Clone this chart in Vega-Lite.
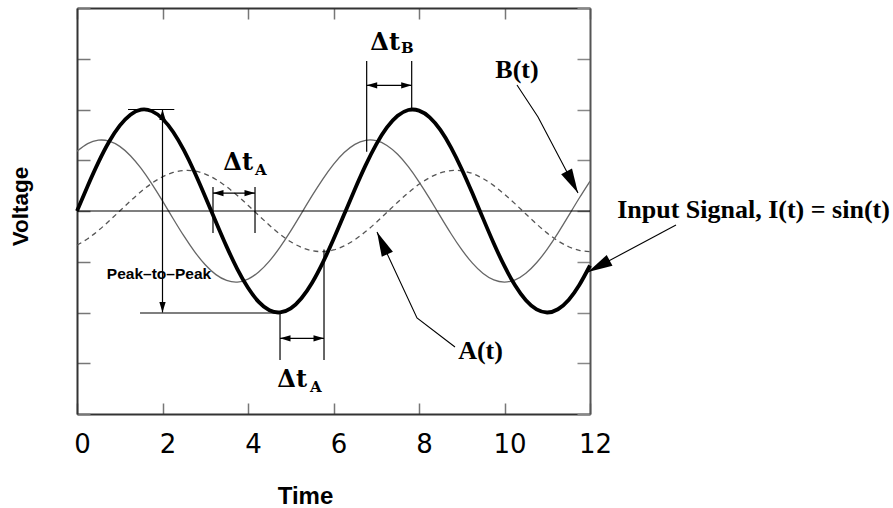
{
  "$schema": "https://vega.github.io/schema/vega-lite/v6.json",
  "width": 513,
  "height": 406,
  "autosize": {"type": "none"},
  "padding": {"left": 77, "top": 8, "right": 303, "bottom": 94},
  "background": "white",
  "config": {"view": {"stroke": null}},
  "resolve": {"axis": {"x": "independent", "y": "independent"}},
  "datasets": {
    "curve": [
      {"t": 0, "I": 0, "A": -0.337, "B": 0.589},
      {"t": 0.25, "I": 0.247, "A": -0.273, "B": 0.664},
      {"t": 0.5, "I": 0.479, "A": -0.192, "B": 0.698},
      {"t": 0.75, "I": 0.682, "A": -0.099, "B": 0.689},
      {"t": 1, "I": 0.841, "A": 0, "B": 0.637},
      {"t": 1.25, "I": 0.949, "A": 0.099, "B": 0.545},
      {"t": 1.5, "I": 0.998, "A": 0.192, "B": 0.419},
      {"t": 1.75, "I": 0.984, "A": 0.273, "B": 0.267},
      {"t": 2, "I": 0.909, "A": 0.337, "B": 0.099},
      {"t": 2.25, "I": 0.778, "A": 0.38, "B": -0.076},
      {"t": 2.5, "I": 0.599, "A": 0.399, "B": -0.246},
      {"t": 2.75, "I": 0.382, "A": 0.394, "B": -0.4},
      {"t": 3, "I": 0.141, "A": 0.364, "B": -0.53},
      {"t": 3.25, "I": -0.108, "A": 0.311, "B": -0.627},
      {"t": 3.5, "I": -0.351, "A": 0.239, "B": -0.684},
      {"t": 3.75, "I": -0.572, "A": 0.153, "B": -0.7},
      {"t": 4, "I": -0.757, "A": 0.056, "B": -0.671},
      {"t": 4.25, "I": -0.895, "A": -0.043, "B": -0.601},
      {"t": 4.5, "I": -0.978, "A": -0.14, "B": -0.494},
      {"t": 4.75, "I": -0.999, "A": -0.229, "B": -0.356},
      {"t": 5, "I": -0.959, "A": -0.303, "B": -0.196},
      {"t": 5.25, "I": -0.859, "A": -0.358, "B": -0.023},
      {"t": 5.5, "I": -0.706, "A": -0.391, "B": 0.151},
      {"t": 5.75, "I": -0.508, "A": -0.4, "B": 0.315},
      {"t": 6, "I": -0.279, "A": -0.384, "B": 0.46},
      {"t": 6.25, "I": -0.033, "A": -0.344, "B": 0.576},
      {"t": 6.5, "I": 0.215, "A": -0.282, "B": 0.657},
      {"t": 6.75, "I": 0.45, "A": -0.203, "B": 0.696},
      {"t": 7, "I": 0.657, "A": -0.112, "B": 0.693},
      {"t": 7.25, "I": 0.823, "A": -0.013, "B": 0.646},
      {"t": 7.5, "I": 0.938, "A": 0.086, "B": 0.559},
      {"t": 7.75, "I": 0.995, "A": 0.18, "B": 0.437},
      {"t": 8, "I": 0.989, "A": 0.263, "B": 0.288},
      {"t": 8.25, "I": 0.923, "A": 0.329, "B": 0.122},
      {"t": 8.5, "I": 0.799, "A": 0.375, "B": -0.053},
      {"t": 8.75, "I": 0.625, "A": 0.398, "B": -0.224},
      {"t": 9, "I": 0.412, "A": 0.396, "B": -0.381},
      {"t": 9.25, "I": 0.174, "A": 0.369, "B": -0.514},
      {"t": 9.5, "I": -0.075, "A": 0.319, "B": -0.616},
      {"t": 9.75, "I": -0.32, "A": 0.25, "B": -0.679},
      {"t": 10, "I": -0.544, "A": 0.164, "B": -0.7},
      {"t": 10.25, "I": -0.735, "A": 0.07, "B": -0.678},
      {"t": 10.5, "I": -0.88, "A": -0.03, "B": -0.613},
      {"t": 10.75, "I": -0.97, "A": -0.128, "B": -0.51},
      {"t": 11, "I": -1, "A": -0.218, "B": -0.376},
      {"t": 11.25, "I": -0.968, "A": -0.294, "B": -0.218},
      {"t": 11.5, "I": -0.876, "A": -0.352, "B": -0.046},
      {"t": 11.75, "I": -0.729, "A": -0.388, "B": 0.128},
      {"t": 12, "I": -0.537, "A": -0.4, "B": 0.294}
    ],
    "segments": [
      {"x": 0, "x2": 12, "y": 0, "y2": 0},
      {"x": 2, "x2": 2, "y": 1, "y2": -1},
      {"x": 1.193, "x2": 2.276, "y": 1, "y2": 1},
      {"x": 1.474, "x2": 4.749, "y": -1.005, "y2": -1.005},
      {"x": 3.181, "x2": 3.181, "y": 0.236, "y2": -0.217},
      {"x": 4.164, "x2": 4.164, "y": 0.236, "y2": -0.217},
      {"x": 3.181, "x2": 4.164, "y": 0.177, "y2": 0.177},
      {"x": 4.749, "x2": 4.749, "y": -1.005, "y2": -1.468},
      {"x": 5.778, "x2": 5.778, "y": -0.38, "y2": -1.468},
      {"x": 4.749, "x2": 5.778, "y": -1.254, "y2": -1.254},
      {"x": 6.776, "x2": 6.776, "y": 1.478, "y2": 0.584},
      {"x": 7.829, "x2": 7.829, "y": 1.478, "y2": 1.012},
      {"x": 6.776, "x2": 7.829, "y": 1.238, "y2": 1.238}
    ],
    "pointers": [
      {"id": "B", "o": 1, "x": 10.292, "y": 1.241},
      {"id": "B", "o": 2, "x": 10.784, "y": 0.926},
      {"id": "B", "o": 3, "x": 11.719, "y": 0.177},
      {"id": "A", "o": 1, "x": 8.842, "y": -1.34},
      {"id": "A", "o": 2, "x": 7.953, "y": -1.054},
      {"id": "A", "o": 3, "x": 7.018, "y": -0.207},
      {"id": "I", "o": 1, "x": 14.012, "y": -0.138},
      {"id": "I", "o": 2, "x": 11.953, "y": -0.601}
    ],
    "smallheads": [
      {"x": 2, "y": 1, "dir": "up"},
      {"x": 2, "y": -1, "dir": "down"},
      {"x": 3.181, "y": 0.177, "dir": "left"},
      {"x": 4.164, "y": 0.177, "dir": "right"},
      {"x": 4.749, "y": -1.254, "dir": "left"},
      {"x": 5.778, "y": -1.254, "dir": "right"},
      {"x": 6.776, "y": 1.238, "dir": "left"},
      {"x": 7.829, "y": 1.238, "dir": "right"}
    ],
    "bigheads": [
      {"x": 11.719, "y": 0.177, "dir": "toB"},
      {"x": 7.018, "y": -0.207, "dir": "toA"},
      {"x": 11.953, "y": -0.601, "dir": "toI"}
    ],
    "labels": [
      {"x": 10.292, "y": 1.31, "text": "B(t)"},
      {"x": 9.439, "y": -1.461, "text": "A(t)"},
      {"x": 15.825, "y": -0.072, "text": "Input Signal, I(t) = sin(t)"}
    ],
    "deltas": [
      {"x": 4.117, "y": 0.404, "text": "Δt"},
      {"x": 5.38, "y": -1.731, "text": "Δt"},
      {"x": 7.556, "y": 1.586, "text": "Δt"}
    ],
    "subs": [
      {"x": 4.164, "y": 0.355, "text": "A"},
      {"x": 5.45, "y": -1.78, "text": "A"},
      {"x": 7.579, "y": 1.554, "text": "B"}
    ],
    "p2p": [
      {"x": 1.918, "y": -0.673, "text": "Peak–to–Peak"}
    ]
  },
  "layer": [
    {
      "data": {"name": "curve"},
      "mark": {"type": "line", "interpolate": "natural", "stroke": "#555", "strokeWidth": 1.3, "strokeDash": [5, 4]},
      "encoding": {
        "x": {"field": "t", "type": "quantitative", "scale": {"domain": [0, 12], "nice": false, "zero": false},
          "axis": {"orient": "bottom", "values": [0, 2, 4, 6, 8, 10, 12], "grid": false, "tickSize": -11, "tickColor": "#777", "tickWidth": 1.5,
            "domainColor": "#333", "domainWidth": 2, "labelFont": "DejaVu Sans", "labelFontSize": 26, "labelColor": "#000",
            "labelOffset": 5, "labelBaseline": "alphabetic", "labelPadding": 49.7, "labelFlush": false, "labelOverlap": false, "labelBound": false,
            "title": "Time", "titleFont": "Liberation Sans", "titleFontWeight": "bold", "titleFontSize": 24, "titleColor": "#000",
            "titleX": 228, "titleY": 89, "titleBaseline": "alphabetic", "titleAlign": "center", "titleAnchor": null}},
        "y": {"field": "A", "type": "quantitative", "scale": {"domain": [-2, 2], "nice": false, "zero": false},
          "axis": {"orient": "left", "values": [-2, -1.5, -1, -0.5, 0, 0.5, 1, 1.5, 2], "grid": false, "tickSize": -13, "tickColor": "#777", "tickWidth": 1.5,
            "domainColor": "#333", "domainWidth": 2, "labels": false,
            "title": "Voltage", "titleFont": "Liberation Sans", "titleFontWeight": "bold", "titleFontSize": 22.5, "titleColor": "#000",
            "titleAngle": 270, "titleX": -50, "titleY": 198, "titleBaseline": "alphabetic", "titleAlign": "center", "titleAnchor": null}}
      }
    },
    {
      "data": {"name": "curve"},
      "mark": {"type": "line", "interpolate": "natural", "stroke": "#666", "strokeWidth": 1.3},
      "encoding": {
        "x": {"field": "t", "type": "quantitative", "scale": {"domain": [0, 12], "nice": false, "zero": false}, "axis": null},
        "y": {"field": "B", "type": "quantitative", "scale": {"domain": [-2, 2], "nice": false, "zero": false}, "axis": null}
      }
    },
    {
      "data": {"name": "segments"},
      "mark": {"type": "rule", "stroke": "#000", "strokeWidth": 1.2},
      "encoding": {
        "x": {"field": "x", "type": "quantitative", "scale": {"domain": [0, 12], "nice": false, "zero": false},
          "axis": {"orient": "top", "values": [0, 2, 4, 6, 8, 10, 12], "grid": false, "tickSize": -11, "tickColor": "#777", "tickWidth": 1.5,
            "domainColor": "#333", "domainWidth": 2, "labels": false, "title": null}},
        "x2": {"field": "x2"},
        "y": {"field": "y", "type": "quantitative", "scale": {"domain": [-2, 2], "nice": false, "zero": false},
          "axis": {"orient": "right", "values": [-2, -1.5, -1, -0.5, 0, 0.5, 1, 1.5, 2], "grid": false, "tickSize": -13, "tickColor": "#888", "tickWidth": 1.5,
            "domainColor": "#555", "domainWidth": 2, "labels": false, "title": null}},
        "y2": {"field": "y2"}
      }
    },
    {
      "data": {"name": "curve"},
      "mark": {"type": "line", "interpolate": "natural", "stroke": "#000", "strokeWidth": 3.8},
      "encoding": {
        "x": {"field": "t", "type": "quantitative", "scale": {"domain": [0, 12], "nice": false, "zero": false}, "axis": null},
        "y": {"field": "I", "type": "quantitative", "scale": {"domain": [-2, 2], "nice": false, "zero": false}, "axis": null}
      }
    },
    {
      "data": {"name": "pointers"},
      "mark": {"type": "line", "stroke": "#000", "strokeWidth": 1.1},
      "encoding": {
        "x": {"field": "x", "type": "quantitative", "scale": {"domain": [0, 12], "nice": false, "zero": false}, "axis": null},
        "y": {"field": "y", "type": "quantitative", "scale": {"domain": [-2, 2], "nice": false, "zero": false}, "axis": null},
        "detail": {"field": "id", "type": "nominal"},
        "order": {"field": "o", "type": "quantitative"}
      }
    },
    {
      "data": {"name": "smallheads"},
      "mark": {"type": "point", "filled": true, "fill": "#000", "strokeWidth": 0, "size": 110, "opacity": 1},
      "encoding": {
        "x": {"field": "x", "type": "quantitative", "scale": {"domain": [0, 12], "nice": false, "zero": false}, "axis": null},
        "y": {"field": "y", "type": "quantitative", "scale": {"domain": [-2, 2], "nice": false, "zero": false}, "axis": null},
        "shape": {"field": "dir", "type": "nominal", "legend": null,
          "scale": {"domain": ["up", "down", "left", "right", "toB", "toA", "toI"],
            "range": ["M0,0L0.6,2L-0.6,2Z", "M0,0L0.6,-2L-0.6,-2Z", "M0,0L2,0.6L2,-0.6Z", "M0,0L-2,0.6L-2,-0.6Z",
              "M0,0L-1.374,-1.537L-0.488,-2.003Z", "M0,0L1.298,1.603L0.39,2.025Z", "M0,0L1.528,-1.383L2,-0.501Z"]}}
      }
    },
    {
      "data": {"name": "bigheads"},
      "mark": {"type": "point", "filled": true, "fill": "#000", "strokeWidth": 0, "size": 600, "opacity": 1},
      "encoding": {
        "x": {"field": "x", "type": "quantitative", "scale": {"domain": [0, 12], "nice": false, "zero": false}, "axis": null},
        "y": {"field": "y", "type": "quantitative", "scale": {"domain": [-2, 2], "nice": false, "zero": false}, "axis": null},
        "shape": {"field": "dir", "type": "nominal", "legend": null,
          "scale": {"domain": ["up", "down", "left", "right", "toB", "toA", "toI"],
            "range": ["M0,0L0.6,2L-0.6,2Z", "M0,0L0.6,-2L-0.6,-2Z", "M0,0L2,0.6L2,-0.6Z", "M0,0L-2,0.6L-2,-0.6Z",
              "M0,0L-1.374,-1.537L-0.488,-2.003Z", "M0,0L1.298,1.603L0.39,2.025Z", "M0,0L1.528,-1.383L2,-0.501Z"]}}
      }
    },
    {
      "data": {"name": "labels"},
      "mark": {"type": "text", "font": "Liberation Serif", "fontWeight": "bold", "fontSize": 26, "align": "center", "baseline": "alphabetic", "color": "#000"},
      "encoding": {
        "x": {"field": "x", "type": "quantitative", "scale": {"domain": [0, 12], "nice": false, "zero": false}, "axis": null},
        "y": {"field": "y", "type": "quantitative", "scale": {"domain": [-2, 2], "nice": false, "zero": false}, "axis": null},
        "text": {"field": "text"}
      }
    },
    {
      "data": {"name": "deltas"},
      "mark": {"type": "text", "font": "DejaVu Serif", "fontWeight": "bold", "fontSize": 24, "align": "right", "baseline": "alphabetic", "color": "#000"},
      "encoding": {
        "x": {"field": "x", "type": "quantitative", "scale": {"domain": [0, 12], "nice": false, "zero": false}, "axis": null},
        "y": {"field": "y", "type": "quantitative", "scale": {"domain": [-2, 2], "nice": false, "zero": false}, "axis": null},
        "text": {"field": "text"}
      }
    },
    {
      "data": {"name": "subs"},
      "mark": {"type": "text", "font": "DejaVu Serif", "fontWeight": "bold", "fontSize": 15, "align": "left", "baseline": "alphabetic", "color": "#000"},
      "encoding": {
        "x": {"field": "x", "type": "quantitative", "scale": {"domain": [0, 12], "nice": false, "zero": false}, "axis": null},
        "y": {"field": "y", "type": "quantitative", "scale": {"domain": [-2, 2], "nice": false, "zero": false}, "axis": null},
        "text": {"field": "text"}
      }
    },
    {
      "data": {"name": "p2p"},
      "mark": {"type": "text", "font": "Liberation Sans", "fontWeight": "bold", "fontSize": 15.5, "align": "center", "baseline": "alphabetic", "color": "#000"},
      "encoding": {
        "x": {"field": "x", "type": "quantitative", "scale": {"domain": [0, 12], "nice": false, "zero": false}, "axis": null},
        "y": {"field": "y", "type": "quantitative", "scale": {"domain": [-2, 2], "nice": false, "zero": false}, "axis": null},
        "text": {"field": "text"}
      }
    }
  ]
}
